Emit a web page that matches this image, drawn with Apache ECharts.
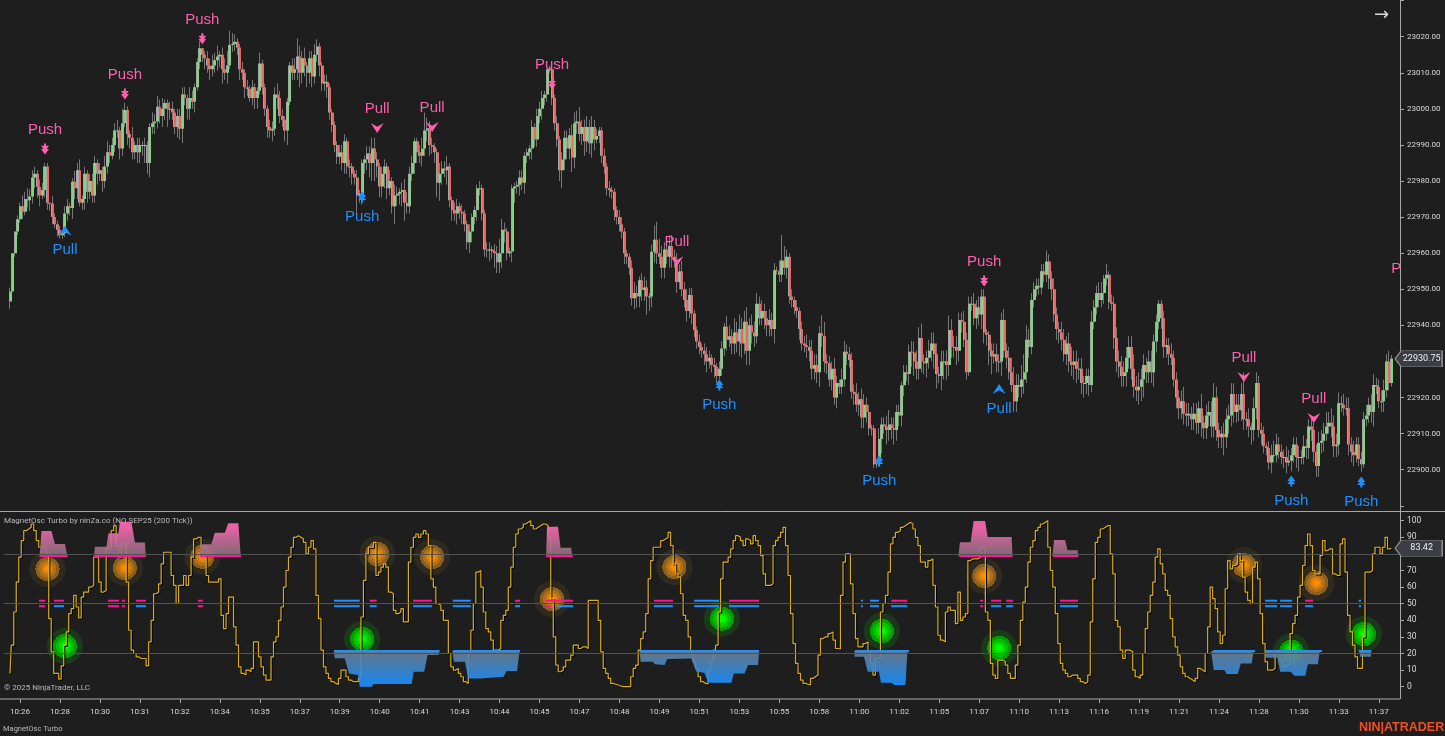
<!DOCTYPE html>
<html><head><meta charset="utf-8">
<style>html,body{margin:0;padding:0;background:#1e1e1e;overflow:hidden}#c{width:1445px;height:736px}</style>
<script src="https://cdn.jsdelivr.net/npm/echarts@6/dist/echarts.min.js"></script>
</head><body><div id="c"></div>
<script>
const tickLabels=['10:26','10:28','10:30','10:31','10:32','10:34','10:35','10:37','10:39','10:40','10:41','10:43','10:44','10:45','10:47','10:48','10:49','10:51','10:53','10:55','10:58','11:00','11:02','11:05','11:07','11:10','11:13','11:16','11:19','11:21','11:24','11:28','11:30','11:33','11:37'];
const priceBase=22900;
const firstBar=2;
const firstOpen=46.6;
const closes=[49.4,60,66,69.4,73,71.5,75,74.7,75.7,81,
82,78.4,76,77.5,84,74,73.8,70,68,66.5,
65,65.5,71,73,72.5,79.8,78,83,74,75,
82,77,80,76,85,82,83,80,84,88,
87,90,94,94,89,96,99.7,93,92,88,
90,88,90,90,90,85,95,96,96.5,100.6,
98,100,101.6,100,100,99,95,98,94.5,104,
103,100,103,102,106,113,116.8,115,114,112,
111,112,113.5,114.5,115,111,110,112,117.7,118,
118.6,117,111,110,106,105.5,103,106,103,105,
112.6,106,100,95,94,94.5,104,103,98,97,
94,102,112,110,111,114.5,110,114,112,110,
114,109,115,117.3,112,107,107.5,106,99,95.5,
90,86.7,88,85,91,84,84,82,81,76,
76.5,85,86,87.6,85,89,86,84,78.5,82,
84,78,80,73,76,76.5,77,77.5,74,73,
82,85,91,88,87,89,94,94.6,90,89.5,
88,79.5,82,83.5,83,84,74.7,72,71,73,
71.5,71,68,63,66,70,72,78,78,71,
61,60.8,61,60.5,60,57.5,60,66.5,66,60,
60.5,78,78.5,79,81,79.5,87,88,89,95,
91.5,98,100,103,104,111,111,103,96,91.5,
83,86,92,89,92.7,86.5,96,96.5,93,95,
91,95,90.5,95,91.5,92.5,94,87,84,78,
77.5,77,72,70,68,66,60,59,56,47.5,
49,48,52.5,49.8,50.5,48,48,60.4,63.7,60,
59,56,61,59,62,59,58,52,54.9,50,
47,44,48.4,43.3,38.7,35.5,34,33,32,30,
31,29,28.5,26,28,33.6,39.6,36,37,35,
38,35.5,39,35,41,33,40,38,37,46,
42,44,42,40,41.5,39,55.3,55,54,58,
56,59,48,47,45,44,39,35,34.5,34,
33,28,29,27,37.8,37,30,29.5,25,28,
20,24,23,25,32.7,32,30.4,21.6,21,18,
19.5,14.5,18,16,11.5,11.4,1.5,1.8,8.5,12.5,
12,11,12.5,11.5,11,16,15,23.4,27,26.5,
32.7,32.5,30,28,36.5,30,29.5,31,33,35,
32,26.5,26,30,30,29,38.7,34,34,33,
41.5,41,36,27,46,46,42,45,43,48,
38,37.4,33,31.4,32,30,30,41.5,33,31,
27,23.5,19,23.5,23,25,27,36,34,47,
50,51,50.5,55,54,57.7,53,50,43,39,
38,36,32,35,30,29,30,28,28,24,
24,26,23.5,41,45,49,47,49,53,54,
46.5,46,36.5,30,28.5,26,27,31,34,28,
23,22,23,25,29,27,30,27,35.5,41,
46,42,34,34.5,32,31,25,20,17,19,
15.5,15,15.5,14,15.5,13,17,13,11.5,15,
16,12,20,11,9,10,9,14,15,21,
16,18,16.5,21,14,14,12,11,17,24,
11,10,6.5,6,2,4,4,7,5,3.5,
3.5,2,2.5,4,7,3.5,3.5,3.5,6.5,6,
12,11,5,1,7.5,8,10,12,13,12,
6.5,7,18.4,18,17,17,7,5,4,7,
3,1.5,14,15,18,16,23.5,23,19,19,
22,30,24,30.75];
const wickUp=[1,0,0,1,1,3,2,3,2,2,2,1,2,2,1,1,0,2,1,1,
1,1,2,2,1,1,3,2,3,1,2,1,2,2,2,1,2,1,3,3,
2,2,2,3,1,4,2,1,1,3,1,2,2,1,2,1,1,3,2,3,
2,3,1,1,2,2,1,2,2,2,2,1,3,2,1,1,2,0,1,2,
2,3,2,3,1,2,3,4,4,3,2,1,1,2,1,2,1,2,1,1,
3,1,1,1,2,2,2,3,2,2,1,1,1,2,3,5,3,2,3,1,
2,2,3,2,1,1,2,2,1,1,1,1,2,2,2,1,2,1,1,2,
1,1,1,2,2,3,3,2,1,2,2,1,3,1,3,2,1,2,3,3,
2,2,1,1,2,3,5,3,2,2,1,1,3,2,2,3,1,1,2,2,
1,2,1,1,2,1,1,1,2,1,1,2,2,1,2,2,4,3,2,1,
1,1,1,1,2,2,1,1,1,2,1,2,2,2,1,0,1,1,1,2,
1,2,2,2,2,3,3,3,4,2,2,3,2,3,2,2,1,1,2,1,
2,1,1,1,2,2,1,1,1,2,3,2,1,2,3,2,1,2,4,5,
4,3,2,2,3,3,2,2,2,3,2,3,2,2,1,1,2,1,2,2,
2,1,2,1,2,2,1,3,3,2,4,3,4,3,3,4,2,3,3,3,
2,3,2,2,3,2,2,1,3,7,4,2,1,2,1,2,1,2,2,3,
2,3,3,3,2,5,4,2,2,2,3,2,1,3,3,2,2,2,2,3,
2,3,3,2,2,1,1,1,3,2,2,3,4,2,3,2,2,1,2,2,
2,3,3,3,3,4,2,2,3,3,3,3,2,3,3,3,4,3,3,3,
2,2,3,2,2,2,3,2,3,2,2,1,1,2,3,3,2,2,3,2,
3,4,5,3,3,4,5,4,3,2,2,2,2,2,2,3,2,2,3,2,
2,3,3,2,3,4,3,3,3,3,2,2,2,3,2,2,3,3,1,3,
1,2,2,3,3,3,3,3,3,3,4,3,4,3,3,2,3,3,2,2,
1,1,2,2,2,3,2,2,2,3,4,3,3,2,3,3,2,4,2,3,
3,3,4,3,2,2,3,3,3,3,3,3,3,3,6,2,3,1,3,3,
2,2,2,1,2,3,4,3,2,2,2,3,3,2,2,2,3,2,3,2,
2,3,3,2,3,3,3,4,3,4,3,3,3,2,3,3,3,2,3,2,
2,2,2,3,2,3,3,2,2,3,3,2,3,1];
const wickDown=[2,0,1,1,1,2,1,2,3,2,3,3,3,1,2,2,2,2,1,2,
1,1,1,2,2,3,3,3,1,2,3,3,2,2,2,3,2,3,2,2,
2,1,2,2,3,2,1,3,3,2,2,3,3,3,5,3,4,2,3,2,
2,3,3,5,3,2,2,3,3,4,2,3,3,2,3,1,2,2,3,2,
3,2,2,3,3,4,2,3,1,2,2,2,3,2,3,2,1,2,3,3,
1,2,2,3,2,3,2,3,2,2,3,4,1,2,2,3,4,3,3,4,
3,3,2,2,3,2,2,3,2,2,2,2,2,2,3,2,3,3,2,5,
2,3,3,3,4,5,6,3,3,3,4,3,2,2,5,3,3,4,5,2,
2,2,3,3,2,3,2,3,3,2,3,4,5,3,2,4,2,3,2,3,
2,3,2,2,3,3,2,3,2,2,2,2,3,2,4,3,3,4,3,2,
1,3,4,2,3,2,3,2,2,3,2,2,2,3,2,2,1,2,2,2,
3,5,3,3,3,4,3,3,2,3,4,3,3,4,3,1,2,2,2,2,
2,2,3,2,2,2,3,2,2,2,3,3,3,3,3,5,4,3,3,3,
2,3,3,2,3,3,2,3,2,2,2,3,2,3,2,2,2,2,3,3,
2,2,3,2,1,2,2,3,2,3,3,3,4,4,3,4,4,3,3,2,
2,2,3,3,3,2,4,1,2,2,2,3,2,2,2,2,3,2,2,3,
3,3,3,3,4,3,3,3,2,3,2,3,2,2,2,3,2,2,3,2,
3,3,3,3,2,2,1,1,1,4,2,4,3,3,4,3,3,3,3,2,
3,4,4,3,3,3,3,4,3,3,4,4,2,4,5,4,3,3,3,4,
3,3,2,2,1,2,2,3,3,4,3,3,4,5,2,3,3,4,2,3,
2,2,3,3,3,3,4,3,3,2,2,2,2,2,2,2,3,3,2,3,
3,3,2,3,3,3,4,4,3,3,4,3,3,2,2,2,2,2,3,2,
2,2,3,3,3,3,3,4,3,3,3,3,4,4,5,3,3,3,4,3,
2,3,3,3,3,2,2,3,3,3,3,3,3,3,3,3,3,4,3,3,
3,3,3,3,3,3,5,3,4,3,3,3,3,3,3,3,3,4,3,3,
2,3,2,2,2,3,2,2,2,2,3,3,1,3,2,3,4,2,2,3,
3,3,3,3,3,3,3,2,2,3,3,3,3,2,2,2,3,3,3,2,
2,2,1,2,2,3,4,2,2,3,3,2,2,1];
const oscValues=[8,25,45,63,78,88,94,95,96,98,
94,88,84,84,83,80,41,21,8,8,
4.6,12.6,25,33,44,47,55,48,41.5,54,
57,57,60,61,78,78,63,57,58,83,
84,94,97,85,78,86,86,63,34,22,
20,18,17,17,17,12.5,27,40,56,57,
62,74,81,81,81,67,61,50,61,61,
67,61,67,78,89,90,90,84,80,67,
63,63,63,63,65,43,35,44,54,54,
36,25,12,8,7,10,9,11,27,27,
18,12,7,4,4,18,27,30,40,48,
60,70,78,84,90,91,90,89,87,80,
84,88,83,55,41,22,12,8,5,3,
2,1.4,5,10,10,6,4,3,3,3,
5,42,64,80,84,84,87,67,69,72,
74,72,57,56,46,44,45,47,39,39,
75,84,90,92,90,92,94,92,85,65,
60,50,49,46,40,40,20,12,10,11,
8,6,3,2,20,34,50,69,70,60,
45,35,33,28,22,22,23,40,43,46,
60,72,84,92,95,96,98,99,100,97,
95,96,97,98,98,97,90,53,30,13,
9,10,12,16,16,19,25,25,23,24,
24,23,52,52,52,52,40,21,11,8,
5,2,1.5,1,0.4,0,0,0,0,6,
11,13,22,29,33,44,65,76,84,84,
84,88,89,90,93,85,74,68,66,56,
43,40,30,21,15,11,6,3,2,1.6,
10,15,22,25,45,65,75,75,78,83,
88,91,90,88,85,89,88,86,91,88,
85,79,68,61,61,62,85,88,90,93,
96,85,67,44,26,14,8,4,2,1.5,
1,5,6,7,19,29,30,30,32,33,
28,23,22.7,55,75,80,80,62,44,29,
24,24,26,27,21,14,7,17,17,45,
50,55,69,86,90,93,94,96,97,98,
99,98,95,90,85,75,75,72,76,77,
61,48,31,28,27,45,48,46,46,38,
57,40,42,44,76,77,77,77,78,84,
84,45,40,14,7,5,16,16,15,13,
8,5,5,13,25,40,51,60,75,84,
88,94,96,98,99,100,84,70,60,44,
26,14,10,8,6,7,7,7,5,3,
2,3,7,39,65,87,90,95,96,97,
97,80,68,40,36,22,17,22,22,21,
10,6,5,7,20,35,45,55,63,78,
83,74,68,58,55,41,30,24,19,12,
8,6,5,4,3,5,11,10,9,20,
36,60,53,47,33,26,31,59,76,71,
73,74,80,76,66,57,52,50,72,75,
65,44,26,15,10,10,11,20,20,16,
12,13,13,32,38,43,54,61,73,85,
92,85,70,68,68,79,88,82,83,83,
68,67,67,86,89,69,43,33,25,18,
11,11,30,69,69,70,80,84,84,80,
84,90,83,83.42];
const levels=[20,50,80];
const upperPink=[[13.6,16],[19.6,23.6],[41.2,45.6],[46.8,48],[52.4,56.4],[77.2,79.2],[146,148.8],[163.4,170.9],[204.2,206.2],[216.6,227.4],[259.8,267.4],[289.9,301.9],[354.8,361.2],[390.4,391.6],[394.8,398.8],[400.8,403.6],[422.4,429.6],[520.5,523.7]];
const upperBlue=[[131.7,142],[179.3,186.5],[275.9,285.9],[342.7,343.5],[346.3,349.9],[504.5,509.3],[510.5,515.3],[542,542.9]];
const lowerPink=[[13.6,16],[41.2,45.6],[46.8,48],[77.2,79.2],[216.6,218.6],[390.4,391.6]];
const lowerBlue=[[19.6,23.6],[52.4,56.4],[131.7,142],[146,148.8],[163.4,170.9],[179.3,186.5],[204.2,206.2],[221,227.4],[259.8,267.4],[275.9,285.9],[289.9,301.9],[342.7,343.5],[346.3,349.9],[354.8,361.2],[394.8,398.8],[400.8,403.6],[422.4,429.6],[504.5,509.3],[510.5,515.3],[520.5,523.7],[542,542.9]];
const obLine=[[13.8,25.2],[35.6,56.4],[78,94.5],[216.6,227.4],[382.4,403.4],[419.9,429.6]];
const osLine=[[131.7,174],[179.3,206.2],[254.2,301.9],[340.3,361.9],[483.7,500.5],[504.5,527.3],[542,547]];
const obBase=78.5, osBase=21.5, upperRow=51.8, lowerRow=48.5;
const obBlocks=[
[[13.8,78.5],[14.6,93.8],[18.6,93.8],[20,86],[24,86],[25,78.5]],
[[35.6,78.5],[36,84.3],[40.6,84.3],[41.4,92.4],[45.4,92.4],[46,99.4],[50.6,99.4],[52,86.8],[56,86.8],[56.4,78.5]],
[[78,78.5],[78.6,85.8],[82.6,85.8],[84,92.8],[88,92.8],[89.4,98.4],[93.4,98.4],[94.4,78.5]],
[[216.6,78.5],[217,96.4],[221.4,96.4],[222.4,83.7],[226.7,83.7],[227.1,78.5]],
[[381.7,78.5],[382.3,87],[386.6,87],[387.8,99.8],[392.4,99.8],[393.4,90.2],[403,90.2],[403.4,78.5]],
[[419.3,78.5],[420,88.4],[424.4,88.4],[425.4,82.2],[429.4,82.2],[429.8,78.5]]];
const osBlocks=[
[[131.7,21.5],[132,17.1],[136,17.1],[137.7,8],[141.3,7],[142,0],[146.9,0],[147.5,1.6],[162.8,1.6],[163.6,9],[167.8,9],[169.2,19.1],[173.5,19.1],[173.9,21.5]],
[[179.1,21.5],[179.7,15],[184.1,15],[185.5,5],[190.1,5],[199.6,6],[200.8,9.5],[205,9.5],[206,21.5]],
[[254,21.5],[254.5,15],[259.5,15],[260.1,13.5],[264.1,13],[265.1,16.7],[274.8,17],[275.6,13.5],[276.8,9],[280,8.4],[281.6,2.4],[290.8,2.4],[291.8,8],[296.1,8],[297.5,13],[301.5,13],[301.9,21.5]],
[[340.1,21.5],[340.1,18],[343.9,18],[345.4,9],[349.9,9],[350.7,2.4],[355.1,2.4],[356.1,1],[360.5,1],[361.3,21.5]],
[[482.9,21.5],[483.9,10],[488.2,10],[489.1,7.6],[493.5,7.6],[494.8,14],[499.1,14],[499.9,21.5]],
[[504.5,21.5],[505,17.5],[509.5,17.5],[510.5,9],[514.8,9],[516.2,6.6],[520.6,6.6],[521.6,13.5],[525.6,13.5],[526.4,21.5]],
[[542.3,21.5],[542.5,18],[546.8,18],[547,21.5]]];
const orangeDots=[[17,70.9],[48,71.5],[79,78.3],[149,79.9],[171,78.1],[219,52.8],[268,72.1],[392,66.7],[496,73.3],[525,62.5]];
const greenDots=[[24,24.5],[143,28.7],[287,41],[351,33.6],[398,23.3],[515,21.1],[544,31.7]];
const pushDownSignals=[[16,88.9],[48,104.1],[79,119.4],[219,106.9],[392,52.3]];
const pullDownSignals=[[149,94.7],[171,95],[269,57.8],[496,25.7],[524,14.3]];
const pullUpSignals=[[24,66.2],[398,22.4]];
const pushUpSignals=[[143,75.6],[286,23.5],[350,2.4],[515,-3.1],[543,-3.4]];
const edgeLabelSignals=[[557,55.6]];
const lastPrice=22930.75, lastOsc=83.42;

const barCount=559;
const categories=[];
for(let i=0;i<barCount;i++){const k=(i-6)/16;categories.push(k>=0&&Number.isInteger(k)&&tickLabels[k]?tickLabels[k]:'');}
const candles=[];let prev=firstOpen;
closes.forEach((c,n)=>{const o=prev,hi=Math.max(o,c)+wickUp[n],lo=Math.min(o,c)-wickDown[n];
 candles.push([firstBar+n,priceBase+o,priceBase+c,priceBase+lo,priceBase+hi]);prev=c;});
const oscData=oscValues.map((v,n)=>[firstBar+n,v]);
const abs=a=>a.map(s=>[s[0],priceBase+s[1]]);

const FONT='Roboto',AX='#d8d8d8',PINK='#ff5fae',BLUE='#1e90ff',DEEP='#ff1493';
const rg=(stops)=>new echarts.graphic.RadialGradient(.5,.5,.5,stops);
function rings(a,b,c,d,e){return rg([{offset:0,color:a},{offset:.18,color:a},{offset:.18,color:b},{offset:.33,color:b},{offset:.33,color:c},{offset:.5,color:c},{offset:.5,color:d},{offset:.67,color:d},{offset:.67,color:e},{offset:1,color:e}]);}
function xAt(api,a,v){const f=Math.floor(a);return api.coord([f,v])[0]+(a-f)*api.size([1,0])[0];}
function dashSeries(segs,val,color,h){return {type:'custom',xAxisIndex:1,yAxisIndex:1,z:5,silent:true,clip:false,
 data:segs.map(s=>[Math.round(s[0]),val]),
 renderItem:(p,api)=>{const s=segs[p.dataIndex],y=api.coord([0,val])[1],x1=xAt(api,s[0],val),x2=xAt(api,s[1],val);
  return {type:'rect',shape:{x:x1,y:y-h/2,width:x2-x1,height:h},style:{fill:color}};}};}
function blockSeries(blocks,base,vTop,vBot,cTop,cBot){return {type:'custom',xAxisIndex:1,yAxisIndex:1,z:4,silent:true,clip:false,
 data:blocks.map(b=>[Math.round(b[0][0]),base]),
 renderItem:(p,api)=>{const b=blocks[p.dataIndex],y1=api.coord([0,vTop])[1],y2=api.coord([0,vBot])[1];
  return {type:'polygon',shape:{points:b.map(q=>[xAt(api,q[0],q[1]),api.coord([0,q[1]])[1]])},
   style:{opacity:.9,fill:new echarts.graphic.LinearGradient(0,y1,0,y2,[{offset:0,color:cTop},{offset:1,color:cBot}],true)}};}};}
function signalSeries(data,sym,size,text,color,pos,dist){return {type:'scatter',xAxisIndex:0,yAxisIndex:0,z:6,silent:true,clip:false,
 data:abs(data),symbol:sym,symbolSize:size,itemStyle:{color:color,opacity:1},
 label:{show:true,formatter:text,position:pos,distance:dist,color:color,fontFamily:'Liberation Sans',fontSize:15}};}
const text=(x,y,t,extra)=>({type:'text',silent:true,x:x,y:y,style:Object.assign({text:t,fill:'#b9b9b9',fontFamily:FONT,fontSize:8,textVerticalAlign:'middle'},extra||{})});
const line=(x1,y1,x2,y2)=>({type:'line',silent:true,shape:{x1,y1,x2,y2},style:{stroke:'#a8a8a8',lineWidth:1}});
const badge=(coord,t)=>({symbol:'path://M0 8L6 0H47V16H6Z',symbolSize:[47,16],symbolOffset:[27.4,0],silent:true,animation:false,
 itemStyle:{color:'#3c3c44',borderColor:'#8a8a8a',borderWidth:1},
 label:{show:true,position:'inside',offset:[3,0],color:'#f0f0f0',fontFamily:FONT,fontSize:9,formatter:t},
 data:[{coord:coord}]});

const chart=echarts.init(document.getElementById('c'),null,{renderer:'canvas',width:1445,height:736});
chart.setOption({
 animation:false,backgroundColor:'#1e1e1e',
 grid:[{left:3.77,width:1396.23,top:0.6,height:505.2},{left:3.77,width:1396.23,top:520.7,height:166},{left:3.77,width:1396.23,top:690,height:9}],
 xAxis:[
  {type:'category',gridIndex:0,data:categories,boundaryGap:true,show:false},
  {type:'category',gridIndex:1,data:categories,boundaryGap:true,show:false},
  {type:'category',gridIndex:2,data:categories,boundaryGap:true,position:'bottom',
   axisLine:{show:false},
   axisTick:{show:true,length:4,alignWithLabel:true,interval:(i,v)=>v!=='',lineStyle:{color:'#a8a8a8'}},
   axisLabel:{show:true,interval:(i,v)=>v!=='',margin:9,color:AX,fontFamily:FONT,fontSize:8,hideOverlap:false},splitLine:{show:false}}],
 yAxis:[
  {type:'value',gridIndex:0,position:'right',min:22890,max:23030,interval:10,scale:true,
   axisLine:{show:false},axisTick:{show:true,length:4,lineStyle:{color:'#a8a8a8'}},splitLine:{show:false},
   axisLabel:{margin:7,color:AX,fontFamily:FONT,fontSize:8,formatter:v=>(v===22890||v===23030)?'':v.toFixed(2)}},
  {type:'value',gridIndex:1,position:'right',min:0,max:100,interval:10,
   axisLine:{show:false},axisTick:{show:true,length:4,lineStyle:{color:'#a8a8a8'}},splitLine:{show:false},
   axisLabel:{margin:7,color:AX,fontFamily:FONT,fontSize:8.5}},
  {type:'value',gridIndex:2,show:false,min:0,max:1}],
 series:[
  {type:'candlestick',xAxisIndex:0,yAxisIndex:0,z:2,silent:true,barWidth:1,encode:{x:0,y:[1,2,3,4]},data:candles,
   itemStyle:{color:'#777777',color0:'#777777',borderColor:'#777777',borderColor0:'#777777',borderWidth:1},
   markPoint:badge([555,lastPrice],'22930.75')},
  {type:'custom',xAxisIndex:0,yAxisIndex:0,z:3,silent:true,encode:{x:0,y:[1,2]},data:candles.map(c=>[c[0],c[1],c[2]]),
   renderItem:(p,api)=>{const i=api.value(0),o=api.value(1),c=api.value(2),p1=api.coord([i,o]),p2=api.coord([i,c]);
    const top=Math.min(p1[1],p2[1]),h=Math.max(1,Math.abs(p1[1]-p2[1])),x0=Math.round(p1[0]-1.5);
    return {type:'group',children:[
     {type:'rect',shape:{x:x0,y:top,width:1,height:h},style:{fill:'#a6a6a6'}},
     {type:'rect',shape:{x:x0+1,y:top,width:2,height:h},style:{fill:c>=o?'#7fd67f':'#f4645e'}}]};}},
  signalSeries(pushDownSignals,'path://M3 0H5V2H8L5.5 4.5H8L4 9L0 4.5H2.5L0 2H3Z',[8,11],'Push',PINK,'top',6),
  signalSeries(pullDownSignals,'path://M0 0L5 3L10 0L5 8Z',[13,10],'Pull',PINK,'top',7),
  signalSeries(pullUpSignals,'path://M5 0L10 8L5 5L0 8Z',[13,10],'Pull',BLUE,'bottom',7),
  signalSeries(pushUpSignals,'path://M3 9H5V7H8L5.5 4.5H8L4 0L0 4.5H2.5L0 7H3Z',[8,11],'Push',BLUE,'bottom',7),
  signalSeries(edgeLabelSignals,'circle',0,'P',PINK,'inside',0),
  {type:'scatter',xAxisIndex:1,yAxisIndex:1,z:1,silent:true,clip:false,data:orangeDots,symbolSize:36,
   itemStyle:{opacity:1,color:rings('#ff8c00','#d87f0e','#b0701a','#8a5e1e','#2f2a20')}},
  {type:'scatter',xAxisIndex:1,yAxisIndex:1,z:1,silent:true,clip:false,data:greenDots,symbolSize:36,
   itemStyle:{opacity:1,color:rings('#00ff00','#00e000','#00c000','#009c00','#1a3a1a')}},
  {type:'line',xAxisIndex:1,yAxisIndex:1,z:3,silent:true,clip:false,step:'middle',showSymbol:false,data:oscData,
   lineStyle:{color:'#dcae10',width:1.2,shadowColor:'#000',shadowBlur:0,shadowOffsetX:1,shadowOffsetY:1},
   markLine:{silent:true,symbol:'none',label:{show:false},lineStyle:{color:'#525252',width:1.2,type:'solid'},data:levels.map(v=>({yAxis:v}))},
   markPoint:badge([555,lastOsc],'83.42')},
  blockSeries(obBlocks,obBase,96,obBase,'#ff69b4','#86717d'),
  blockSeries(osBlocks,osBase,osBase,3,'#6d7f91','#1e90ff'),
  dashSeries(upperPink,upperRow,DEEP,2),dashSeries(upperBlue,upperRow,BLUE,2),
  dashSeries(lowerPink,lowerRow,DEEP,2),dashSeries(lowerBlue,lowerRow,BLUE,2),
  dashSeries(obLine,obBase,DEEP,1.6),dashSeries(osLine,osBase,BLUE,2)
 ],
 graphic:[
  line(0,511.5,1445,511.5),line(0,699,1400,699),line(1400.5,0,1400.5,699),
  text(4,521,'MagnetOsc Turbo by ninZa.co (NQ SEP25 (200 Tick))'),
  text(4,688,'© 2025 NinjaTrader, LLC'),
  text(3,729,'MagnetOsc Turbo',{fontSize:7.5}),
  text(1359,728,'NIN|ATRADER',{fill:'#f04e23',fontFamily:'Liberation Sans',fontWeight:'bold',fontSize:12.5}),
  text(1374,15,'→',{fill:'#d8d8d8',fontFamily:'DejaVu Sans',fontSize:18})
 ]
});
</script></body></html>
